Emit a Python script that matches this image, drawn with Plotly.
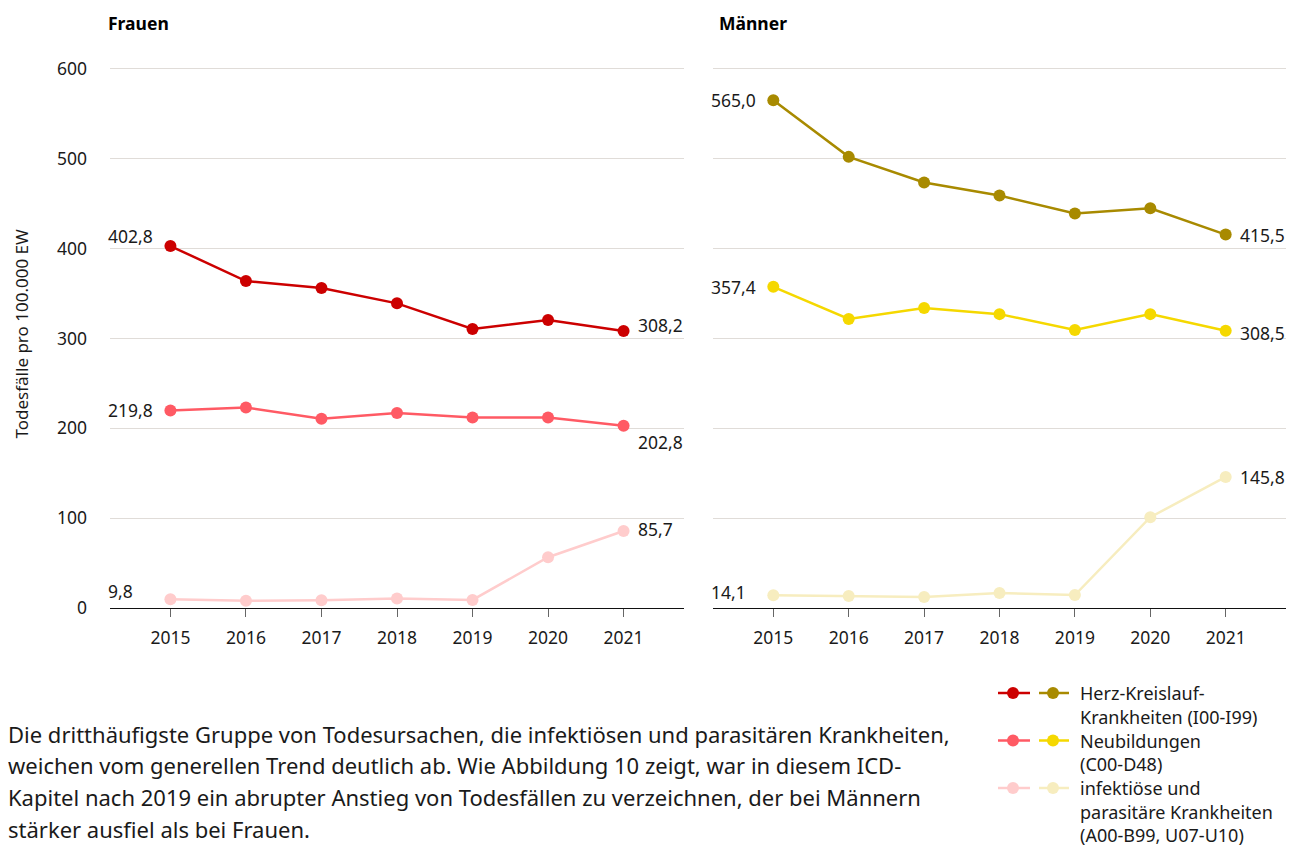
import plotly.graph_objects as go

years = [2015, 2016, 2017, 2018, 2019, 2020, 2021]

# Frauen
f_herz = [402.8, 363.8, 356.0, 339.0, 310.5, 320.5, 308.2]
f_neub = [219.8, 223.0, 210.7, 217.0, 212.0, 212.0, 202.8]
f_inf = [9.8, 8.0, 8.5, 10.5, 9.0, 56.5, 85.7]

# Männer
m_herz = [565.0, 502.0, 473.5, 459.0, 439.0, 444.7, 415.5]
m_neub = [357.4, 321.6, 333.8, 327.0, 309.4, 327.0, 308.5]
m_inf = [14.1, 13.3, 12.2, 16.6, 14.4, 101.0, 145.8]

series_names = ["Herz-Kreislauf-Krankheiten (I00-I99)", "Neubildungen (C00-D48)",
                "infektiöse und parasitäre Krankheiten (A00-B99, U07-U10)"]
f_colors = ["#cc0000", "#ff5a64", "#ffcccc"]
m_colors = ["#a88a00", "#f5d800", "#f7edbf"]

panel_titles = ["Frauen", "Männer"]
y_ticks = [0, 100, 200, 300, 400, 500, 600]
y_title = "Todesfälle pro 100.000 EW"
paragraph = [
    "Die dritthäufigste Gruppe von Todesursachen, die infektiösen und parasitären Krankheiten,",
    "weichen vom generellen Trend deutlich ab. Wie Abbildung 10 zeigt, war in diesem ICD-",
    "Kapitel nach 2019 ein abrupter Anstieg von Todesfällen zu verzeichnen, der bei Männern",
    "stärker ausfiel als bei Frauen.",
]
legend_lines = [
    ["Herz-Kreislauf-", "Krankheiten (I00-I99)"],
    ["Neubildungen", "(C00-D48)"],
    ["infektiöse und", "parasitäre Krankheiten", "(A00-B99, U07-U10)"],
]

FONT = "Noto Sans"
TXT = "#1a1a1a"

# page geometry: the figure fills the page body (8px body margin)
OFF = 8
PW, PH = 1294 - 2 * OFF, 855 - 2 * OFF


def PX(x):
    return (x - OFF) / PW


def PY(y):
    return 1 - (y - OFF) / PH


fig = go.Figure()

panels = [
    ("x", "y", [f_herz, f_neub, f_inf], f_colors),
    ("x2", "y2", [m_herz, m_neub, m_inf], m_colors),
]
# vertical shifts for (first, last) value labels
label_shift = {
    ("x", 0): (10, 6), ("x", 1): (0, -16), ("x", 2): (8, 2),
    ("x2", 0): (0, 0), ("x2", 1): (0, -2), ("x2", 2): (3, 0),
}

annotations = []
for xa, ya, data, cols in panels:
    for i, (vals, col) in enumerate(zip(data, cols)):
        fig.add_trace(go.Scatter(
            x=years, y=vals, mode="lines+markers", xaxis=xa, yaxis=ya,
            line=dict(color=col, width=2.5), marker=dict(color=col, size=12),
            showlegend=False, hoverinfo="x+y", name=series_names[i],
        ))
        s_first, s_last = label_shift[(xa, i)]
        annotations.append(dict(
            x=0, y=vals[0], xref=f"{xa} domain", yref=ya, text=f"{vals[0]:.1f}".replace(".", ","),
            showarrow=False, xanchor="left", xshift=-4, yshift=s_first,
            font=dict(family=FONT, size=17.5, color=TXT)))
        annotations.append(dict(
            x=years[-1], y=vals[-1], xref=xa, yref=ya, text=f"{vals[-1]:.1f}".replace(".", ","),
            showarrow=False, xanchor="left", xshift=12, yshift=s_last,
            font=dict(family=FONT, size=17.5, color=TXT)))

annotations.append(dict(x=PX(106), y=PY(23), xref="paper", yref="paper", text=f"<b>{panel_titles[0]}</b>",
                        showarrow=False, xanchor="left", yanchor="middle",
                        font=dict(family=FONT, size=17.5, color="#000")))
annotations.append(dict(x=PX(717), y=PY(23), xref="paper", yref="paper", text=f"<b>{panel_titles[1]}</b>",
                        showarrow=False, xanchor="left", yanchor="middle",
                        font=dict(family=FONT, size=17.5, color="#000")))

annotations.append(dict(x=PX(8), y=PY(334), xref="paper", yref="paper", text=y_title,
                        showarrow=False, textangle=-90, xanchor="left", yanchor="middle",
                        font=dict(family=FONT, size=17, color=TXT)))

para_y = [734, 765, 797, 829]
for line, py in zip(paragraph, para_y):
    annotations.append(dict(x=PX(6), y=PY(py), xref="paper", yref="paper", text=line,
                            showarrow=False, xanchor="left", yanchor="middle",
                            font=dict(family=FONT, size=22, color=TXT)))

shapes = []
leg_rows = [693, 740.5, 788]
lh = 23.6
for r, (lines, py) in enumerate(zip(legend_lines, leg_rows)):
    for k, ln in enumerate(lines):
        annotations.append(dict(x=PX(1078), y=PY(py + k * lh), xref="paper", yref="paper", text=ln,
                                showarrow=False, xanchor="left", yanchor="middle",
                                font=dict(family=FONT, size=18, color=TXT)))
    for x0, x1, col in [(998, 1030, f_colors[r]), (1039, 1069, m_colors[r])]:
        yy = PY(py)
        shapes.append(dict(type="line", xref="paper", yref="paper", x0=PX(x0), x1=PX(x1), y0=yy, y1=yy,
                           line=dict(color=col, width=2.5)))
        cx = (x0 + x1) / 2 - 1
        shapes.append(dict(type="circle", xref="paper", yref="paper",
                           x0=PX(cx - 6), x1=PX(cx + 6), y0=PY(py + 6), y1=PY(py - 6),
                           fillcolor=col, line=dict(width=0)))

ydom = [PY(608), PY(67)]
xcommon = dict(range=[2014.2, 2021.8], tickvals=years, ticks="outside", ticklen=8, tickcolor="#666",
               tickwidth=1, showgrid=False, showline=True, linecolor="#111", linewidth=1.3,
               tickfont=dict(family=FONT, size=17.5, color=TXT), ticklabelstandoff=6, zeroline=False,
               automargin=False)
ycommon = dict(range=[0, 602], tickvals=y_ticks, showgrid=True, gridcolor="#e0dcd8", gridwidth=1,
               zeroline=False, showline=False, domain=ydom, fixedrange=True, automargin=False)

fig.update_layout(
    template="none",
    autosize=True,
    margin=dict(l=0, r=0, t=0, b=0, pad=0, autoexpand=False),
    paper_bgcolor="white", plot_bgcolor="white",
    font=dict(family=FONT, color=TXT),
    showlegend=False,
    xaxis=dict(domain=[PX(110), PX(684)], anchor="y", **xcommon),
    xaxis2=dict(domain=[PX(713), min(1.0, PX(1287))], anchor="y2", **xcommon),
    yaxis=dict(anchor="x", showticklabels=True, tickfont=dict(family=FONT, size=17.5, color=TXT),
               ticklabelstandoff=22, **ycommon),
    yaxis2=dict(anchor="x2", showticklabels=False, **ycommon),
    annotations=annotations,
    shapes=shapes,
)

fig.write_html("out.html")
